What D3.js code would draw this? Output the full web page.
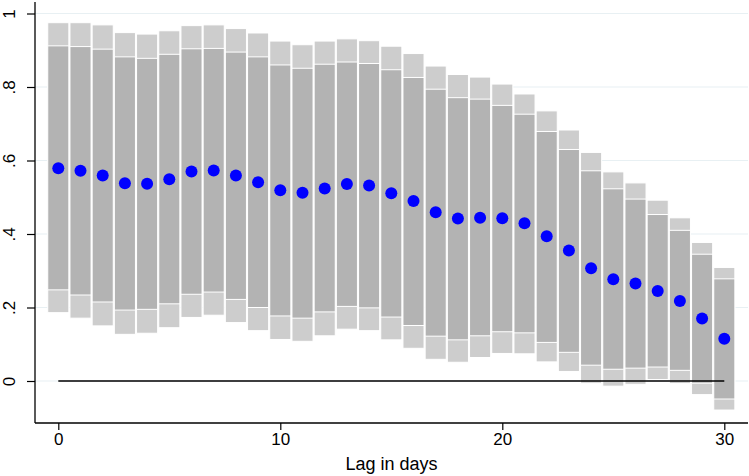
<!DOCTYPE html>
<html>
<head>
<meta charset="utf-8">
<script src="https://cdn.jsdelivr.net/npm/d3@7"></script>
<style>
  html, body { margin: 0; padding: 0; background: #fff; }
  svg { display: block; font-family: "Liberation Sans", Arial, sans-serif; }
</style>
</head>
<body>
<svg id="chart" width="749" height="476"></svg>
<script>
const lags = [0,1,2,3,4,5,6,7,8,9,10,11,12,13,14,15,16,17,18,19,20,21,22,23,24,25,26,27,28,29,30];
const coef = [0.579,0.572,0.559,0.538,0.537,0.549,0.570,0.573,0.559,0.541,0.519,0.512,0.524,0.536,0.532,0.511,0.490,0.459,0.442,0.444,0.443,0.429,0.394,0.355,0.307,0.277,0.265,0.245,0.218,0.170,0.115];
const hi95 = [0.975,0.975,0.969,0.948,0.944,0.953,0.967,0.969,0.959,0.947,0.925,0.915,0.925,0.931,0.926,0.911,0.891,0.857,0.834,0.827,0.808,0.781,0.735,0.683,0.622,0.569,0.539,0.492,0.444,0.377,0.309];
const hi90 = [0.912,0.910,0.903,0.882,0.878,0.889,0.904,0.905,0.895,0.882,0.860,0.851,0.862,0.868,0.864,0.847,0.826,0.794,0.771,0.767,0.750,0.726,0.679,0.630,0.572,0.523,0.495,0.453,0.410,0.345,0.278];
const lo90 = [0.248,0.234,0.215,0.193,0.195,0.210,0.236,0.242,0.222,0.200,0.177,0.171,0.188,0.203,0.199,0.174,0.151,0.122,0.112,0.123,0.134,0.131,0.105,0.078,0.043,0.032,0.035,0.038,0.029,-0.006,-0.049];
const lo95 = [0.186,0.171,0.150,0.127,0.130,0.145,0.173,0.179,0.159,0.137,0.113,0.108,0.123,0.141,0.137,0.112,0.089,0.059,0.051,0.064,0.075,0.074,0.052,0.026,-0.006,-0.014,-0.009,0.004,-0.007,-0.037,-0.079];
const xTicks = [0,10,20,30];
const yTicks = [0,0.2,0.4,0.6,0.8,1];
const yTickLabels = ["0",".2",".4",".6",".8","1"];
const xTitle = "Lag in days";

const data = lags.map((l,i)=>({lag:l, coef:coef[i], hi95:hi95[i], hi90:hi90[i], lo90:lo90[i], lo95:lo95[i]}));

const svg = d3.select("#chart");
const plotLeft = 35, plotRight = 748, plotTop = 2, plotBottom = 423;

const x = d3.scaleLinear().domain([0,30]).range([58.3,724.3]);
const y = d3.scaleLinear().domain([0,1]).range([381,13.5]);

// gridlines
svg.append("g").selectAll("line").data(yTicks).join("line")
  .attr("x1", plotLeft).attr("x2", plotRight)
  .attr("y1", d=>y(d)).attr("y2", d=>y(d))
  .attr("stroke", "#e8f0f3").attr("stroke-width", 1.2);

const bw = x(0.95) - x(0);

// outer band (95%)
svg.append("g").selectAll("rect").data(data).join("rect")
  .attr("x", d=>x(d.lag)-bw/2)
  .attr("width", bw)
  .attr("y", d=>y(d.hi95))
  .attr("height", d=>y(d.lo95)-y(d.hi95))
  .attr("fill", "#cdcdcd")
  .attr("stroke", "#ffffff").attr("stroke-width", 1);

// inner band (90%)
svg.append("g").selectAll("rect").data(data).join("rect")
  .attr("x", d=>x(d.lag)-bw/2)
  .attr("width", bw)
  .attr("y", d=>y(d.hi90))
  .attr("height", d=>y(d.lo90)-y(d.hi90))
  .attr("fill", "#b3b3b3")
  .attr("stroke", "#ffffff").attr("stroke-width", 1);

// zero line
svg.append("line")
  .attr("x1", x(0)).attr("x2", x(30))
  .attr("y1", y(0)).attr("y2", y(0))
  .attr("stroke", "#000").attr("stroke-width", 1.5);

// points
svg.append("g").selectAll("circle").data(data).join("circle")
  .attr("cx", d=>x(d.lag)).attr("cy", d=>y(d.coef))
  .attr("r", 6).attr("fill", "#0000ff");

// axes
const xAxis = d3.axisBottom(x).tickValues(xTicks).tickSize(7).tickPadding(3).tickFormat(d3.format("d"));
const gx = svg.append("g").attr("transform", `translate(0,${plotBottom})`).call(xAxis);
gx.select(".domain").remove();
gx.append("line").attr("x1", plotLeft).attr("x2", plotRight).attr("y1",0).attr("y2",0)
  .attr("stroke","#000").attr("stroke-width",1.3);
gx.selectAll(".tick line").attr("stroke","#000").attr("stroke-width",1.2);
gx.selectAll(".tick text").attr("font-size", 17).attr("fill","#000")
  .attr("font-family", "Liberation Sans, Arial, sans-serif");

const yAxis = d3.axisLeft(y).tickValues(yTicks).tickSize(8).tickFormat((d,i)=>yTickLabels[i]);
const gy = svg.append("g").attr("transform", `translate(${plotLeft},0)`).call(yAxis);
gy.select(".domain").remove();
gy.append("line").attr("x1",0).attr("x2",0).attr("y1",plotTop).attr("y2",plotBottom)
  .attr("stroke","#000").attr("stroke-width",1.3);
gy.selectAll(".tick line").attr("stroke","#000").attr("stroke-width",1.2);
gy.selectAll(".tick text")
  .attr("font-size", 17).attr("fill","#000")
  .attr("font-family", "Liberation Sans, Arial, sans-serif")
  .attr("x", null).attr("dy", null)
  .attr("text-anchor","middle")
  .attr("transform", "translate(-20,0) rotate(-90)");

// x title
svg.append("text")
  .attr("x", (plotLeft+plotRight)/2).attr("y", 470)
  .attr("text-anchor","middle").attr("font-size", 18).attr("fill","#000")
  .text(xTitle);
</script>
</body>
</html>
